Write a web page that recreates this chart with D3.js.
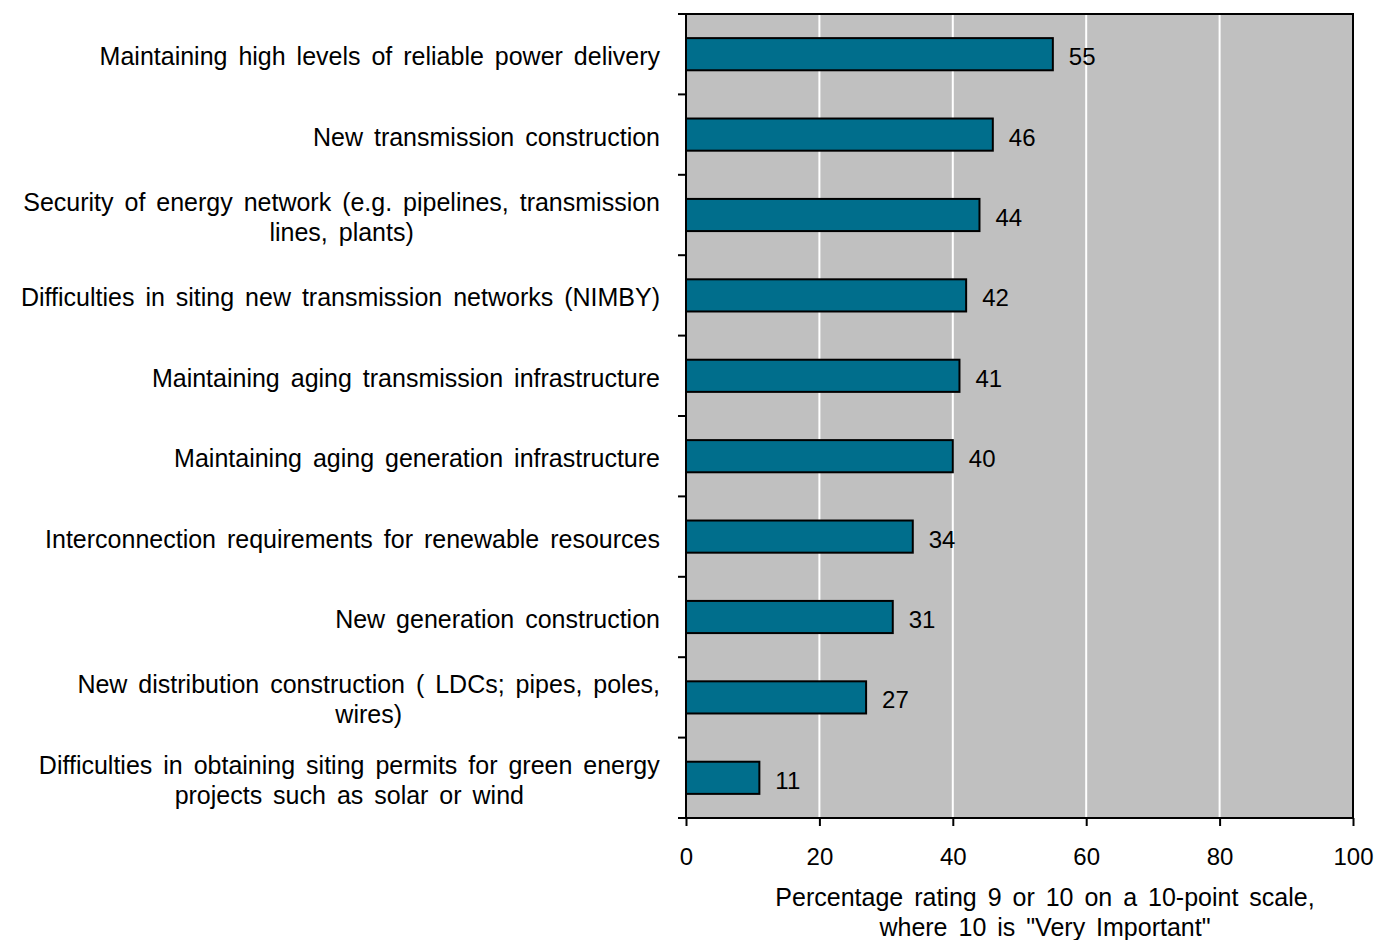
<!DOCTYPE html>
<html><head><meta charset="utf-8">
<script src="https://cdn.jsdelivr.net/npm/d3@7"></script>
<style>body{margin:0;background:#fff;}svg{display:block;font-family:"Liberation Sans",Arial,sans-serif;}</style>
</head><body>
<svg id="c" width="1378" height="940"></svg>
<script>
const categories = [
  ["Maintaining high levels of reliable power delivery"],
  ["New transmission construction"],
  ["Security of energy network (e.g. pipelines, transmission", "lines, plants)"],
  ["Difficulties in siting new transmission networks (NIMBY)"],
  ["Maintaining aging transmission infrastructure"],
  ["Maintaining aging generation infrastructure"],
  ["Interconnection requirements for renewable resources"],
  ["New generation construction"],
  ["New distribution construction ( LDCs; pipes, poles,", "wires)"],
  ["Difficulties in obtaining siting permits for green energy", "projects such as solar or wind"]
];
const values = [55, 46, 44, 42, 41, 40, 34, 31, 27, 11];
const xTicks = [0, 20, 40, 60, 80, 100];
const axisTitle = ["Percentage rating 9 or 10 on a 10-point scale,", "where 10 is \"Very Important\""];

const svg = d3.select("#c");
const L = 686, R = 1353, T = 14, B = 818;
const FS = 25, NFS = 24, WS = 4;
const x = d3.scaleLinear().domain([0, 100]).range([L, R]);
const y = d3.scaleBand().domain(d3.range(categories.length)).range([T, B]).paddingInner(0.6).paddingOuter(0.3);
const band = d3.scaleBand().domain(d3.range(categories.length)).range([T, B]);

svg.append("rect").attr("x", L).attr("y", T).attr("width", R - L).attr("height", B - T).attr("fill", "#C0C0C0");

svg.selectAll(".grid").data(xTicks.filter(t => t > 0 && t < 100)).enter().append("line")
  .attr("x1", d => x(d)).attr("x2", d => x(d)).attr("y1", T).attr("y2", B)
  .attr("stroke", "#fff").attr("stroke-width", 2);

svg.selectAll(".bar").data(values).enter().append("rect")
  .attr("x", x(0)).attr("y", (d, i) => y(i)).attr("width", d => x(d) - x(0)).attr("height", y.bandwidth())
  .attr("fill", "#006E8C").attr("stroke", "#000").attr("stroke-width", 2);

svg.selectAll(".val").data(values).enter().append("text")
  .attr("x", d => x(d) + 16).attr("y", (d, i) => y(i) + y.bandwidth() / 2 + 11)
  .attr("font-size", NFS).attr("fill", "#000").text(d => d);

// frame
svg.append("rect").attr("x", L).attr("y", T).attr("width", R - L).attr("height", B - T)
  .attr("fill", "none").attr("stroke", "#000").attr("stroke-width", 2);

// y ticks at band boundaries
const yb = d3.range(categories.length + 1).map(i => i < categories.length ? band(i) : B);
svg.selectAll(".yt").data(yb).enter().append("line")
  .attr("x1", L - 8).attr("x2", L).attr("y1", d => d).attr("y2", d => d)
  .attr("stroke", "#000").attr("stroke-width", 2);

// x axis ticks
const xa = svg.append("g").attr("transform", `translate(0,${B})`)
  .call(d3.axisBottom(x).tickValues(xTicks).tickSize(8).tickPadding(22).tickFormat(d3.format("d")));
xa.select(".domain").remove();
xa.selectAll("line").attr("stroke", "#000").attr("stroke-width", 2);
xa.selectAll("text").attr("font-size", NFS).attr("fill", "#000").attr("font-family", "Liberation Sans, Arial, sans-serif");

// category labels
categories.forEach((lines, i) => {
  const cy = y(i) + y.bandwidth() / 2;
  const n = lines.length;
  const t = svg.append("text").attr("font-size", FS).attr("word-spacing", WS).attr("fill", "#000").attr("text-anchor", "end");
  lines.forEach((ln, j) => {
    t.append("tspan").attr("x", 660).attr("y", cy + 11 + (j - (n - 1) / 2) * 30).text(ln);
  });
  if (n > 1) {
    const w = t.node().getBBox().width;
    t.attr("text-anchor", "middle");
    t.selectAll("tspan").attr("x", 660 - w / 2);
  }
});

// axis title
const at = svg.append("text").attr("font-size", FS).attr("word-spacing", WS).attr("fill", "#000").attr("text-anchor", "middle");
axisTitle.forEach((ln, j) => at.append("tspan").attr("x", 1045).attr("y", 906 + j * 30).text(ln));
</script>
</body></html>
